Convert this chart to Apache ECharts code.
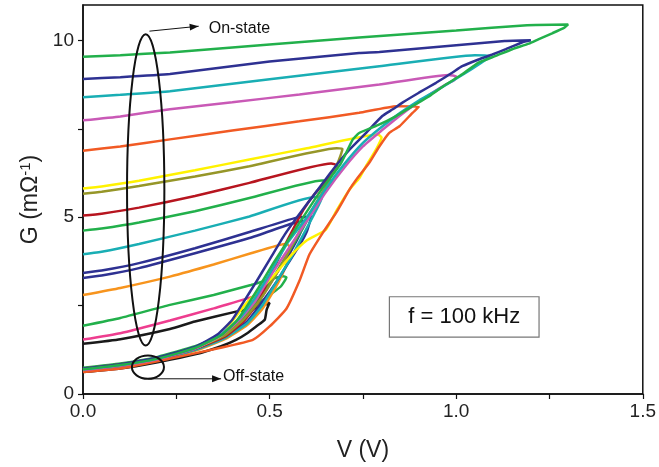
<!DOCTYPE html>
<html>
<head>
<meta charset="utf-8">
<script src="https://cdn.jsdelivr.net/npm/echarts@6/dist/echarts.min.js"></script>
<style>
  html, body { margin: 0; padding: 0; background: #fff; }
  #chart { width: 659px; height: 467px; }
</style>
</head>
<body>
<div id="chart"></div>
<script>
// each loop: forward sweep (off-state) up to Vmax, then return sweep (on-state) back to 0 V
// points are [V (V), G (mΩ^-1)]
const black = [
  [0, 0.62], [0.1, 0.72], [0.2, 0.9], [0.3, 1.12], [0.37, 1.35], [0.41, 1.53], [0.44, 1.72], [0.464, 1.91], [0.487, 2.1], [0.492, 2.38], [0.5, 2.58],
  [0.47, 2.45], [0.41, 2.33], [0.3, 2.05], [0.233, 1.84], [0.1, 1.55], [0, 1.42]
]
const pink = [
  [0, 0.68], [0.1, 0.8], [0.2, 0.98], [0.3, 1.25], [0.36, 1.52], [0.4, 1.8], [0.43, 2.1], [0.455, 2.45], [0.47, 2.65], [0.48, 2.78],
  [0.46, 2.76], [0.35, 2.42], [0.233, 2.08], [0.1, 1.72], [0, 1.54]
]
const greenLow = [
  [0, 0.7], [0.1, 0.82], [0.2, 1.0], [0.3, 1.28], [0.37, 1.6], [0.42, 2.0], [0.46, 2.45], [0.5, 2.8], [0.53, 3.04], [0.545, 3.3],
  [0.536, 3.33], [0.45, 3.08], [0.35, 2.8], [0.233, 2.52], [0.1, 2.15], [0, 1.93]
]
const orange = [
  [0, 0.66], [0.1, 0.77], [0.2, 0.95], [0.3, 1.22], [0.38, 1.55], [0.44, 1.95], [0.48, 2.4], [0.51, 2.9], [0.535, 3.4], [0.55, 3.8], [0.558, 4.1],
  [0.545, 4.25], [0.45, 3.98], [0.35, 3.66], [0.233, 3.32], [0.1, 3.0], [0, 2.8]
]
const blueLowA = [
  [0, 0.72], [0.1, 0.84], [0.2, 1.02], [0.3, 1.32], [0.38, 1.7], [0.43, 2.1], [0.47, 2.6], [0.5, 3.1], [0.53, 3.6], [0.56, 4.1], [0.58, 4.5], [0.595, 4.9],
  [0.56, 4.82], [0.446, 4.41], [0.3, 3.98], [0.15, 3.56], [0.05, 3.35], [0, 3.28]
]
const blueLowB = [
  [0, 0.7], [0.1, 0.82], [0.2, 1.0], [0.3, 1.28], [0.38, 1.62], [0.44, 2.05], [0.48, 2.6], [0.52, 3.2], [0.55, 3.7], [0.58, 4.2], [0.6, 4.6], [0.612, 5.02],
  [0.57, 4.98], [0.446, 4.58], [0.3, 4.12], [0.15, 3.7], [0.05, 3.49], [0, 3.42]
]
const cyanLow = [
  [0, 0.66], [0.1, 0.78], [0.2, 0.96], [0.3, 1.24], [0.38, 1.58], [0.44, 2.0], [0.48, 2.5], [0.52, 3.2], [0.56, 3.9], [0.59, 4.5], [0.62, 5.1], [0.64, 5.55],
  [0.62, 5.57], [0.446, 5.02], [0.3, 4.62], [0.15, 4.24], [0.05, 4.02], [0, 3.95]
]
const greenMid = [
  [0, 0.74], [0.1, 0.86], [0.2, 1.05], [0.3, 1.35], [0.38, 1.72], [0.43, 2.15], [0.47, 2.7], [0.51, 3.3], [0.55, 4.0], [0.59, 4.7], [0.62, 5.3], [0.65, 5.8], [0.67, 6.04],
  [0.64, 6.04], [0.446, 5.54], [0.3, 5.17], [0.15, 4.85], [0.05, 4.68], [0, 4.62]
]
const darkRed = [
  [0, 0.68], [0.1, 0.8], [0.2, 0.98], [0.3, 1.27], [0.38, 1.62], [0.43, 2.05], [0.47, 2.6], [0.5, 3.3], [0.536, 4.1], [0.56, 4.6], [0.59, 5.2], [0.62, 5.65], [0.65, 6.0], [0.674, 6.3], [0.68, 6.47],
  [0.665, 6.52], [0.446, 5.97], [0.3, 5.6], [0.15, 5.27], [0.05, 5.1], [0, 5.05]
]
const olive = [
  [0, 0.72], [0.1, 0.84], [0.2, 1.02], [0.3, 1.3], [0.38, 1.66], [0.43, 2.1], [0.47, 2.6], [0.51, 3.25], [0.55, 4.0], [0.59, 4.8], [0.63, 5.5], [0.655, 5.95], [0.674, 6.35], [0.685, 6.6], [0.695, 6.93],
  [0.68, 6.95], [0.446, 6.44], [0.3, 6.15], [0.15, 5.88], [0.05, 5.72], [0, 5.66]
]
const yellow = [
  [0, 0.7], [0.1, 0.82], [0.2, 1.0], [0.3, 1.3], [0.37, 1.65], [0.41, 2.2], [0.44, 2.6], [0.48, 3.0], [0.52, 3.45], [0.56, 3.95], [0.6, 4.35], [0.651, 4.65], [0.68, 5.2], [0.714, 5.78], [0.74, 6.1], [0.758, 6.44], [0.785, 6.91], [0.8, 7.26],
  [0.79, 7.34], [0.6, 6.95], [0.446, 6.63], [0.3, 6.33], [0.15, 6.03], [0.05, 5.87], [0, 5.81]
]
const orangeRed = [
  [0, 0.62], [0.1, 0.72], [0.233, 1.0], [0.366, 1.3], [0.455, 1.53], [0.5, 1.91], [0.545, 2.41], [0.58, 3.2], [0.607, 3.95], [0.642, 4.55], [0.678, 5.12], [0.714, 5.78], [0.732, 6.06], [0.767, 6.54], [0.794, 7.0], [0.82, 7.38], [0.848, 7.57], [0.883, 7.95], [0.9, 8.12],
  [0.84, 8.14], [0.74, 7.95], [0.58, 7.71], [0.4, 7.45], [0.233, 7.2], [0.1, 7.0], [0, 6.88]
]
const magenta = [
  [0, 0.68], [0.1, 0.8], [0.2, 0.98], [0.3, 1.28], [0.37, 1.65], [0.42, 2.1], [0.46, 2.6], [0.5, 3.3], [0.55, 4.1], [0.6, 4.9], [0.65, 5.7], [0.7, 6.4], [0.75, 7.0], [0.8, 7.45], [0.848, 7.86], [0.883, 8.14], [0.936, 8.52], [0.972, 8.75], [0.995, 8.88], [1.0, 8.98],
  [0.98, 9.02], [0.794, 8.75], [0.58, 8.47], [0.4, 8.25], [0.233, 8.05], [0.1, 7.85], [0, 7.74]
]
const cyanHigh = [
  [0, 0.7], [0.1, 0.82], [0.2, 1.0], [0.3, 1.3], [0.37, 1.68], [0.42, 2.15], [0.46, 2.7], [0.5, 3.4], [0.55, 4.3], [0.6, 5.0], [0.65, 5.8], [0.7, 6.5], [0.75, 7.1], [0.8, 7.55], [0.85, 7.95], [0.9, 8.3], [0.95, 8.6], [0.99, 8.85], [1.04, 9.18], [1.08, 9.46], [1.09, 9.57],
  [1.05, 9.58], [0.794, 9.27], [0.5, 8.9], [0.233, 8.56], [0.1, 8.46], [0, 8.39]
]
const blueHigh = [
  [0, 0.72], [0.1, 0.84], [0.2, 1.03], [0.3, 1.33], [0.36, 1.68], [0.4, 2.1], [0.43, 2.6], [0.46, 3.1], [0.5, 3.8], [0.54, 4.5], [0.57, 4.95], [0.62, 5.65], [0.67, 6.35], [0.714, 6.91], [0.758, 7.38], [0.802, 7.86], [0.83, 8.05], [0.856, 8.24], [0.9, 8.52], [0.946, 8.8], [0.99, 9.09], [1.016, 9.27], [1.06, 9.46], [1.097, 9.6], [1.133, 9.75], [1.176, 9.94], [1.2, 10.0],
  [1.13, 9.98], [0.794, 9.67], [0.74, 9.64], [0.5, 9.4], [0.233, 9.05], [0.1, 8.96], [0, 8.91]
]
const greenHigh = [
  [0, 0.7], [0.1, 0.82], [0.2, 1.0], [0.3, 1.3], [0.37, 1.66], [0.41, 2.05], [0.44, 2.5], [0.47, 3.0], [0.51, 3.7], [0.55, 4.35], [0.59, 5.0], [0.64, 5.8], [0.69, 6.5], [0.723, 7.2], [0.74, 7.38], [0.79, 7.6], [0.839, 7.86], [0.883, 8.14], [0.928, 8.42], [0.972, 8.75], [1.016, 9.04], [1.06, 9.37], [1.106, 9.56], [1.15, 9.75], [1.195, 9.91], [1.22, 10.03], [1.257, 10.2], [1.29, 10.36], [1.3, 10.45],
  [1.19, 10.43], [1.0, 10.28], [0.74, 10.08], [0.5, 9.88], [0.233, 9.66], [0.1, 9.58], [0, 9.54]
]

const LOOPS = [black, pink, greenLow, orange, blueLowA, blueLowB, cyanLow, greenMid, darkRed, olive, yellow, orangeRed, magenta, cyanHigh, blueHigh, greenHigh]
const LOOP_COLORS = ['#1a1a1a', '#ee3d8f', '#22b04b', '#f7941d', '#2e3192', '#2e3192', '#19aeb4', '#22b04b', '#b7151f', '#969628', '#fff200', '#f15a24', '#c959b6', '#19aeb4', '#2e3192', '#22b04b']

const FONT = 'Liberation Sans, Arial, sans-serif'

let chart = echarts.init(document.getElementById('chart'))
chart.setOption({
  animation: false,
  grid: {
    left: 83, right: 14, top: 5, bottom: 72,
    show: true, borderColor: '#111', borderWidth: 1.5
  },
  xAxis: {
    type: 'value', min: 0, max: 1.5, interval: 0.25,
    name: 'V (V)', nameLocation: 'middle', nameGap: 45,
    nameTextStyle: {fontSize: 23, color: '#222', fontFamily: FONT},
    axisLine: {lineStyle: {color: '#111', width: 1.5}},
    axisTick: {length: 5, lineStyle: {color: '#111', width: 1.2}},
    axisLabel: {
      fontSize: 19, color: '#222', fontFamily: FONT, margin: 8,
      formatter: v => (Math.round(v * 100) % 50 === 0 ? v.toFixed(1) : '')
    },
    splitLine: {show: false}
  },
  yAxis: {
    type: 'value', min: 0, max: 11, interval: 2.5,
    name: 'G (mΩ{sup|-1})', nameLocation: 'middle', nameGap: 40, nameRotate: 90,
    nameTextStyle: {
      fontSize: 23, color: '#222', fontFamily: FONT,
      rich: {sup: {fontSize: 15, color: '#222', fontFamily: FONT, verticalAlign: 'top', lineHeight: 24}}
    },
    axisLine: {lineStyle: {color: '#111', width: 1.5}},
    axisTick: {length: 5, lineStyle: {color: '#111', width: 1.2}},
    axisLabel: {
      fontSize: 19, color: '#222', fontFamily: FONT, margin: 9, showMaxLabel: false,
      formatter: v => (v % 5 === 0 ? String(v) : '')
    },
    splitLine: {show: false}
  },
  series: LOOPS.map((d, i) => ({
    type: 'line',
    data: d,
    showSymbol: false,
    smooth: 0.15,
    lineStyle: {color: LOOP_COLORS[i], width: 2.5},
    z: 2
  }))
})

// annotations, placed in data space
const px = (v, g) => chart.convertToPixel({gridIndex: 0}, [v, g])
const bigC = px(0.168, 5.77), bigE = px(0.218, 10.17)
const smC = px(0.174, 0.76), smE = px(0.217, 1.09)
const onA = px(0.178, 10.26), onB = px(0.31, 10.4)
const offA = px(0.174, 0.43), offB = px(0.37, 0.43)
const boxA = px(0.821, 2.75), boxB = px(1.222, 1.61)

function arrowHead(x, y) {
  return {type: 'polygon', shape: {points: [[x, y], [x - 9, y - 3.5], [x - 9, y + 3.5]]}, style: {fill: '#111'}}
}

chart.setOption({
  graphic: [
    {type: 'ellipse', shape: {cx: bigC[0], cy: bigC[1], rx: bigE[0] - bigC[0], ry: bigC[1] - bigE[1]}, style: {fill: null, stroke: '#111', lineWidth: 2}, z: 10},
    {type: 'ellipse', shape: {cx: smC[0], cy: smC[1], rx: smE[0] - smC[0], ry: smC[1] - smE[1]}, style: {fill: null, stroke: '#111', lineWidth: 2}, z: 10},
    {type: 'line', shape: {x1: onA[0], y1: onA[1], x2: onB[0], y2: onB[1]}, style: {stroke: '#111', lineWidth: 1}, z: 10},
    Object.assign(arrowHead(onB[0], onB[1]), {rotation: Math.atan2(onA[1] - onB[1], onB[0] - onA[0]), originX: onB[0], originY: onB[1], z: 10}),
    {type: 'text', x: onB[0] + 10, y: onB[1] + 2, style: {text: 'On-state', font: '16px ' + FONT, fill: '#111', verticalAlign: 'middle'}, z: 10},
    {type: 'line', shape: {x1: offA[0], y1: offA[1], x2: offB[0], y2: offB[1]}, style: {stroke: '#111', lineWidth: 1}, z: 10},
    Object.assign(arrowHead(offB[0], offB[1]), {z: 10}),
    {type: 'text', x: offB[0] + 2, y: offB[1] - 2, style: {text: 'Off-state', font: '16px ' + FONT, fill: '#111', verticalAlign: 'middle'}, z: 10},
    {type: 'rect', shape: {x: boxA[0], y: boxA[1], width: boxB[0] - boxA[0], height: boxB[1] - boxA[1]}, style: {fill: '#fff', stroke: '#777', lineWidth: 1.2}, z: 10},
    {type: 'text', x: (boxA[0] + boxB[0]) / 2, y: (boxA[1] + boxB[1]) / 2, style: {text: 'f = 100 kHz', font: '22px ' + FONT, fill: '#111', align: 'center', verticalAlign: 'middle'}, z: 11}
  ]
})
</script>
</body>
</html>
